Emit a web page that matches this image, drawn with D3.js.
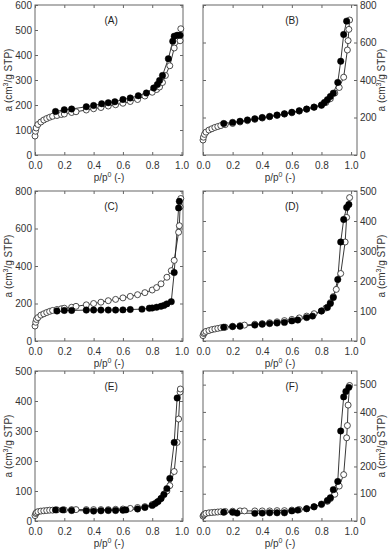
<!DOCTYPE html>
<html>
<head>
<meta charset="utf-8">
<script src="https://cdn.jsdelivr.net/npm/d3@7/dist/d3.min.js"></script>
<style>
  body { margin: 0; background: #fff; }
  text { font-family: "Liberation Sans", Arial, sans-serif; }
</style>
</head>
<body>
<svg id="fig" width="390" height="550"></svg>
<script>
// isotherm points as [p/p0, a]
const adsA = [[0,76],[0.003,95],[0.008,108],[0.02,122],[0.04,132],[0.06,140],[0.08,146],[0.1,151],[0.12,155],[0.15,158],[0.18,162],[0.2,164],[0.25,170],[0.28,173],[0.35,180],[0.4,185],[0.45,190],[0.5,196],[0.55,201],[0.6,207],[0.65,214],[0.7,222],[0.75,236],[0.8,251],[0.83,262],[0.85,272],[0.87,290],[0.89,318],[0.92,357],[0.95,428],[0.99,457],[0.995,505]];
const desA = [[0.99,479],[0.97,479],[0.95,475],[0.94,455],[0.91,385],[0.87,318],[0.85,298],[0.835,282],[0.81,268],[0.76,248],[0.705,237],[0.65,228],[0.6,222],[0.545,213],[0.5,209],[0.455,205],[0.4,198],[0.35,193],[0.25,184],[0.2,181],[0.14,174]];

const adsB = [[0,80],[0.003,95],[0.01,110],[0.02,122],[0.04,133],[0.06,140],[0.08,147],[0.1,152],[0.12,157],[0.15,162],[0.2,168],[0.25,176],[0.3,183],[0.35,190],[0.4,197],[0.45,204],[0.5,211],[0.55,218],[0.6,225],[0.65,234],[0.7,244],[0.75,256],[0.8,268],[0.83,280],[0.86,300],[0.89,330],[0.92,360],[0.95,415],[0.975,560],[0.98,610],[0.985,670],[0.99,720]];
const desB = [[0.97,714],[0.95,643],[0.93,500],[0.91,387],[0.88,330],[0.86,312],[0.84,295],[0.82,280],[0.8,265],[0.75,255],[0.7,245],[0.65,236],[0.6,228],[0.55,220],[0.5,213],[0.45,206],[0.4,200],[0.35,193],[0.3,187],[0.25,180],[0.2,174],[0.14,168]];

const adsC = [[0,80],[0.005,100],[0.01,115],[0.02,125],[0.04,138],[0.06,145],[0.08,152],[0.1,158],[0.12,163],[0.15,168],[0.18,172],[0.2,175],[0.25,180],[0.28,185],[0.35,193],[0.4,200],[0.45,207],[0.5,215],[0.55,222],[0.6,230],[0.65,238],[0.7,247],[0.75,258],[0.8,272],[0.83,285],[0.86,305],[0.9,340],[0.93,375],[0.95,430],[0.98,580],[0.985,615],[0.99,715],[0.995,760]];
const desC = [[0.985,745],[0.98,710],[0.95,365],[0.93,210],[0.9,198],[0.88,190],[0.86,185],[0.83,180],[0.8,176],[0.78,175],[0.73,170],[0.65,168],[0.6,166],[0.55,165],[0.5,165],[0.45,165],[0.4,165],[0.35,165],[0.25,163],[0.2,163],[0.15,160]];

const adsD = [[0,18],[0.005,25],[0.01,28],[0.02,32],[0.04,35],[0.06,38],[0.08,40],[0.1,42],[0.12,44],[0.15,46],[0.2,49],[0.25,51],[0.28,53],[0.35,56],[0.4,58],[0.45,61],[0.5,64],[0.55,68],[0.6,72],[0.65,77],[0.7,83],[0.75,91],[0.8,100],[0.83,110],[0.86,128],[0.88,148],[0.9,172],[0.93,225],[0.96,330],[0.97,412],[0.99,478]];
const desD = [[0.985,455],[0.97,445],[0.95,405],[0.93,330],[0.91,205],[0.88,145],[0.86,125],[0.84,112],[0.8,100],[0.74,83],[0.7,78],[0.64,70],[0.6,67],[0.55,62],[0.5,60],[0.45,58],[0.4,56],[0.35,53],[0.25,49],[0.2,48],[0.14,46]];

const adsE = [[0,18],[0.005,25],[0.01,28],[0.02,31],[0.04,33],[0.06,34],[0.08,35],[0.1,36],[0.12,36],[0.15,37],[0.2,37],[0.25,38],[0.28,38],[0.35,38],[0.4,38],[0.45,38],[0.5,38],[0.55,39],[0.6,40],[0.65,42],[0.7,45],[0.75,48],[0.8,55],[0.83,62],[0.86,75],[0.88,90],[0.9,100],[0.92,118],[0.95,165],[0.97,262],[0.98,340],[0.99,430],[0.992,440]];
const desE = [[0.97,410],[0.95,262],[0.92,142],[0.9,108],[0.88,88],[0.86,75],[0.84,65],[0.82,58],[0.8,52],[0.75,45],[0.7,40],[0.62,37],[0.6,36],[0.55,35],[0.5,35],[0.45,34],[0.4,33],[0.35,34],[0.25,35],[0.19,37],[0.14,37]];

const adsF = [[0,18],[0.005,22],[0.01,25],[0.02,28],[0.04,30],[0.06,31],[0.08,32],[0.1,33],[0.12,34],[0.15,35],[0.2,36],[0.25,37],[0.28,37],[0.35,37],[0.4,37],[0.45,37],[0.5,38],[0.55,38],[0.6,40],[0.65,42],[0.7,45],[0.75,52],[0.8,60],[0.84,72],[0.86,82],[0.89,98],[0.92,128],[0.95,170],[0.97,305],[0.975,350],[0.98,425],[0.99,497]];
const desF = [[0.985,490],[0.965,475],[0.95,455],[0.93,330],[0.91,145],[0.88,115],[0.86,85],[0.84,75],[0.8,62],[0.75,52],[0.7,45],[0.64,40],[0.6,37],[0.55,30],[0.5,30],[0.45,30],[0.4,29],[0.35,28],[0.23,29],[0.2,32],[0.14,32]];

const xTicks = [0, 0.2, 0.4, 0.6, 0.8, 1.0];
const panelNames = ["(A)", "(B)", "(C)", "(D)", "(E)", "(F)"];
const yMaxes = [600, 800, 800, 500, 500, 550];
const yTickSteps = [100, 200, 200, 100, 100, 100];
const yTickMax = [600, 800, 800, 500, 500, 500];

const svg = d3.select("#fig");
const ads = [adsA, adsB, adsC, adsD, adsE, adsF];
const des = [desA, desB, desC, desD, desE, desF];

// frame boxes: left col / right col, three rows
const cols = [{x0: 35, x1: 183, xMax: 1.01, side: "left"}, {x0: 203, x1: 357, xMax: 1.04, side: "right"}];
const rows = [{y0: 5, y1: 155}, {y0: 191, y1: 341}, {y0: 371, y1: 521}];
const fontSize = "10px";

panelNames.forEach((name, i) => {
    let c = cols[i % 2], r = rows[Math.floor(i / 2)];
    let x = d3.scaleLinear().domain([0, c.xMax]).range([c.x0, c.x1]);
    let y = d3.scaleLinear().domain([0, yMaxes[i]]).range([r.y1, r.y0]);
    let yTicks = d3.range(0, yTickMax[i] + 1, yTickSteps[i]);
    let g = svg.append("g");

    let tick = 3;
    let bottom = g.append("g").attr("transform", `translate(0,${r.y1})`)
        .call(d3.axisBottom(x).tickValues(xTicks).tickFormat(d3.format(".1f"))
            .tickSizeInner(-tick).tickSizeOuter(0).tickPadding(7));
    let top = g.append("g").attr("transform", `translate(0,${r.y0})`)
        .call(d3.axisTop(x).tickValues(xTicks).tickFormat("").tickSizeInner(-tick).tickSizeOuter(0));
    let yLab, yOpp;
    if (c.side === "left") {
        yLab = g.append("g").attr("transform", `translate(${c.x0},0)`)
            .call(d3.axisLeft(y).tickValues(yTicks).tickSizeInner(-tick).tickSizeOuter(0).tickPadding(3));
        yOpp = g.append("g").attr("transform", `translate(${c.x1},0)`)
            .call(d3.axisRight(y).tickValues(yTicks).tickFormat("").tickSizeInner(-tick).tickSizeOuter(0));
    } else {
        yLab = g.append("g").attr("transform", `translate(${c.x1},0)`)
            .call(d3.axisRight(y).tickValues(yTicks).tickSizeInner(-tick).tickSizeOuter(0).tickPadding(3));
        yOpp = g.append("g").attr("transform", `translate(${c.x0},0)`)
            .call(d3.axisLeft(y).tickValues(yTicks).tickFormat("").tickSizeInner(-tick).tickSizeOuter(0));
    }
    [bottom, top, yLab, yOpp].forEach(a => {
        a.select(".domain").remove();
        a.selectAll("line").attr("stroke", "#666");
        a.selectAll("text").attr("fill", "#333").style("font-size", fontSize)
            .style("font-family", '"Liberation Sans", Arial, sans-serif');
    });

    g.append("rect")
        .attr("x", c.x0).attr("y", r.y0)
        .attr("width", c.x1 - c.x0).attr("height", r.y1 - r.y0)
        .attr("fill", "none").attr("stroke", "#666").attr("stroke-width", 1);

    // axis titles
    let xt = g.append("text")
        .attr("x", (c.x0 + c.x1) / 2).attr("y", r.y1 + 26)
        .attr("text-anchor", "middle").attr("fill", "#333").style("font-size", fontSize);
    xt.append("tspan").text("p/p");
    xt.append("tspan").attr("dy", -4).style("font-size", "7px").text("0");
    xt.append("tspan").attr("dy", 4).text(" (-)");

    let yx = c.side === "left" ? 8.5 : 381;
    let yt = g.append("text")
        .attr("transform", `translate(${yx},${(r.y0 + r.y1) / 2}) rotate(-90)`)
        .attr("text-anchor", "middle").attr("dy", "0.35em").attr("fill", "#333").style("font-size", "10px");
    yt.append("tspan").text("a (cm");
    yt.append("tspan").attr("dy", -4).style("font-size", "7px").text("3");
    yt.append("tspan").attr("dy", 4).text("/g STP)");

    g.append("text")
        .attr("x", x(c.side === "left" ? 0.52 : 0.6)).attr("y", r.y0 + 19)
        .attr("text-anchor", "middle").attr("fill", "#222").style("font-size", fontSize)
        .text(name);

    let line = d3.line().x(d => x(d[0])).y(d => y(d[1]));
    g.append("path").datum(ads[i]).attr("d", line)
        .attr("fill", "none").attr("stroke", "#222").attr("stroke-width", 0.9);
    g.append("path").datum(des[i]).attr("d", line)
        .attr("fill", "none").attr("stroke", "#222").attr("stroke-width", 0.9);

    g.selectAll("circle.ads").data(ads[i]).enter().append("circle")
        .attr("class", "ads")
        .attr("cx", d => x(d[0])).attr("cy", d => y(d[1])).attr("r", 3)
        .attr("fill", "#fff").attr("stroke", "#222").attr("stroke-width", 0.8);
    g.selectAll("circle.des").data(des[i]).enter().append("circle")
        .attr("class", "des")
        .attr("cx", d => x(d[0])).attr("cy", d => y(d[1])).attr("r", 3.2)
        .attr("fill", "#000").attr("stroke", "#000").attr("stroke-width", 0.5);
});
</script>
</body>
</html>
